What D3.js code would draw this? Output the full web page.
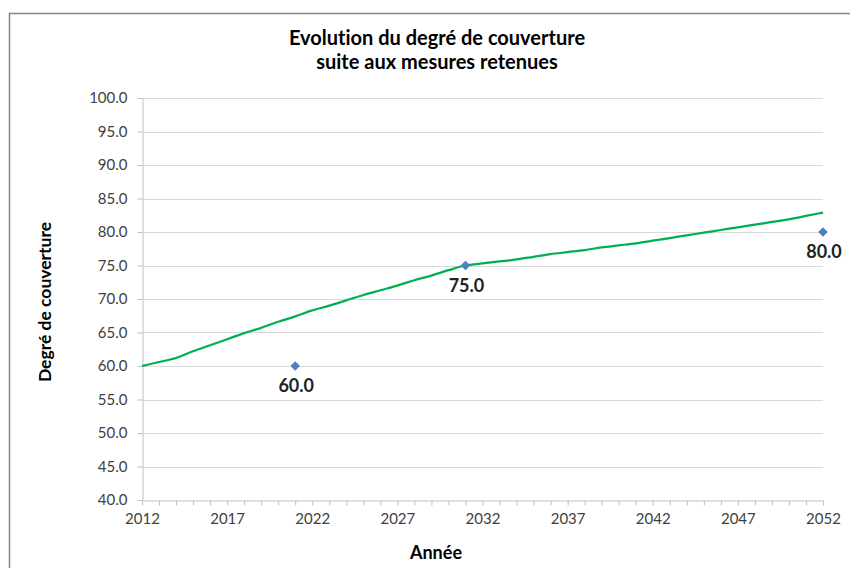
<!DOCTYPE html>
<html><head><meta charset="utf-8">
<script src="https://cdn.jsdelivr.net/npm/d3@7"></script>
<style>body{margin:0;background:#fff;}svg{display:block;}text{font-variant-ligatures:none;}</style>
</head><body>
<svg id="c" width="850" height="568"></svg>
<script>
const years = d3.range(2012, 2053);
const lineValues = [60.0,60.6,61.2,62.2,63.1,64.0,64.9,65.7,66.6,67.4,68.3,69.0,69.8,70.6,71.3,72.0,72.8,73.5,74.3,75.0,75.3,75.6,75.9,76.3,76.7,77.0,77.3,77.7,78.0,78.3,78.7,79.1,79.5,79.9,80.3,80.7,81.1,81.5,81.9,82.4,82.9];
const targetYears = [2021, 2031, 2052];
const targetValues = [60.0, 75.0, 80.0];
const yTicks = [40,45,50,55,60,65,70,75,80,85,90,95,100];
const xLabelYears = [2012,2017,2022,2027,2032,2037,2042,2047,2052];
const titleLines = ["Evolution du degré de couverture","suite aux mesures retenues"];
const xTitle = "Année", yTitle = "Degré de couverture";

const svg = d3.select("#c");
const font = "Lato, sans-serif";
const L=142,R=823,T=98,B=500;
const x = d3.scaleLinear().domain([2012,2052]).range([L,R]);
const y = d3.scaleLinear().domain([40,100]).range([B,T]);

// frame
svg.append("path").attr("d","M9.5,568 V13.5 H850").attr("fill","none").attr("stroke","#868686").attr("stroke-width",1.5);

// title
svg.append("text").attr("x",437).attr("y",45).attr("text-anchor","middle")
  .attr("font-family",font).attr("font-weight","bold").attr("font-size",20).attr("fill","#000")
  .selectAll("tspan").data(titleLines).join("tspan").attr("x",437).attr("dy",(d,i)=>i?24:0).text(d=>d);

// grid
svg.append("g").selectAll("line").data(yTicks.filter(v=>v>40)).join("line")
  .attr("x1",L).attr("x2",R).attr("y1",d=>Math.round(y(d))+0.5).attr("y2",d=>Math.round(y(d))+0.5)
  .attr("stroke","#d9d9d9").attr("stroke-width",1);

// y axis
const ya = svg.append("g").attr("transform",`translate(${L+0.5},0)`)
  .call(d3.axisLeft(y).tickValues(yTicks).tickSize(5).tickSizeOuter(0).tickFormat(d3.format(".1f")));
ya.select(".domain").attr("stroke","#bfbfbf");
ya.selectAll(".tick line").attr("stroke","#bfbfbf");
ya.selectAll("text").attr("font-family",font).attr("font-size",15).attr("fill","#404040").attr("x",-15);

// x axis
const xa = svg.append("g").attr("transform",`translate(0,${B+0.5})`)
  .call(d3.axisBottom(x).tickValues(years).tickSize(5).tickSizeOuter(0)
   .tickFormat(d=>xLabelYears.includes(d)?String(d):""));
xa.select(".domain").attr("stroke","#bfbfbf");
xa.selectAll(".tick line").attr("stroke","#bfbfbf");
xa.selectAll("text").attr("font-family",font).attr("font-size",15).attr("fill","#404040").attr("y",9).attr("dy","0.95em");

// axis titles
svg.append("text").attr("x",436).attr("y",559).attr("text-anchor","middle")
  .attr("font-family",font).attr("font-weight","bold").attr("font-size",18).text(xTitle);
svg.append("text").attr("transform","translate(51,302) rotate(-90)").attr("text-anchor","middle")
  .attr("font-family",font).attr("font-weight","bold").attr("font-size",17.5).text(yTitle);

// line
svg.append("path").datum(years.map((yr,i)=>[yr,lineValues[i]]))
  .attr("d",d3.line().x(d=>x(d[0])).y(d=>y(d[1])).curve(d3.curveMonotoneX))
  .attr("fill","none").attr("stroke","#00b050").attr("stroke-width",2.25);

// targets
const pts = targetYears.map((yr,i)=>({yr,v:targetValues[i]}));
svg.append("g").selectAll("path").data(pts).join("path")
  .attr("transform",d=>`translate(${x(d.yr)},${y(d.v)})`)
  .attr("d","M0,-4.8 L4.8,0 L0,4.8 L-4.8,0Z").attr("fill","#4f81bd");
svg.append("g").selectAll("text").data(pts).join("text")
  .attr("x",d=>x(d.yr)+1).attr("y",d=>y(d.v)+26).attr("text-anchor","middle")
  .attr("font-family",font).attr("font-weight","bold").attr("font-size",18).attr("fill","#222")
  .text(d=>d3.format(".1f")(d.v));
</script>
</body></html>
